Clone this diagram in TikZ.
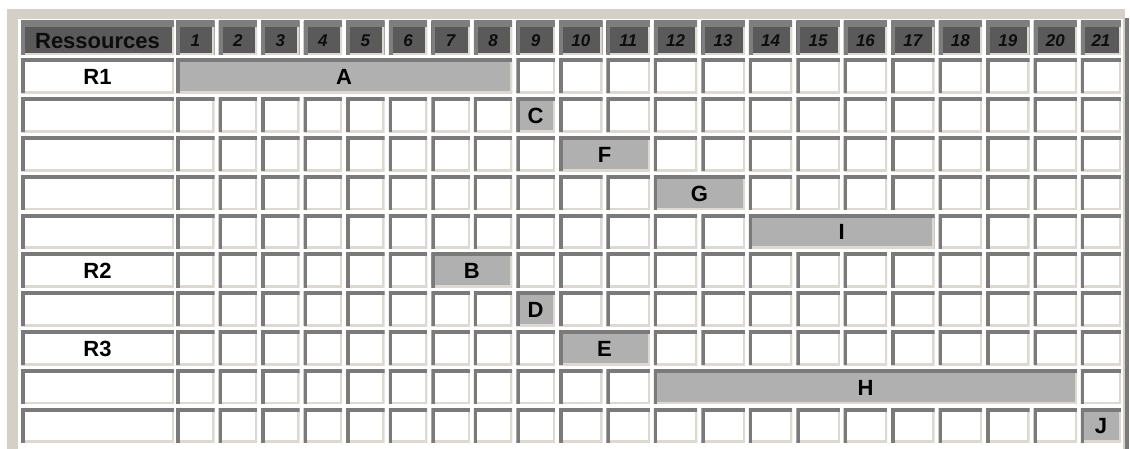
\documentclass[tikz,border=0pt]{standalone}
\usepackage{fontspec}
\setmainfont{Liberation Sans}
\definecolor{beige}{HTML}{D4D0C8}
\definecolor{bdark}{HTML}{7A7A7A}
\definecolor{blight}{HTML}{DCD9D2}
\definecolor{hdrfill}{HTML}{5A5A5A}
\definecolor{hdrtop}{HTML}{7E7E7E}
\definecolor{taskfill}{HTML}{B0B0B0}
\tikzset{
  cellbox/.style={rectangle, inner sep=0pt, outer sep=0pt, anchor=north west, fill=white,
    font=\fontsize{22}{24}\selectfont\bfseries, text=black, text height=16.8pt, text depth=0pt,
    path picture={
      \draw[line width=4.5pt, blight] (path picture bounding box.south west) -- (path picture bounding box.south east) -- (path picture bounding box.north east);
      \draw[line width=7pt, bdark] (path picture bounding box.south west) -- (path picture bounding box.north west) -- (path picture bounding box.north east);
    }},
  taskbox/.style={cellbox, fill=taskfill},
  hdrbox/.style={rectangle, inner sep=0pt, outer sep=0pt, anchor=north west, fill=hdrfill,
    font=\fontsize{17}{19}\selectfont\bfseries\itshape, text=black!95, text height=17.5pt, text depth=0pt,
    path picture={
      \draw[line width=4.5pt, blight] (path picture bounding box.south west) -- (path picture bounding box.south east) -- (path picture bounding box.north east);
      \draw[line width=8pt, hdrtop] (path picture bounding box.south west) -- (path picture bounding box.north west);
      \draw[line width=12pt, hdrtop] (path picture bounding box.north west) -- (path picture bounding box.north east);
    }},
}
\expandafter\def\csname rlab1\endcsname{R1}
\expandafter\def\csname rlab6\endcsname{R2}
\expandafter\def\csname rlab8\endcsname{R3}
\begin{document}
\begin{tikzpicture}[x=1pt, y=-1pt,
  declare function={colL(\k)=ifthenelse(\k<10, 176+(\k-1)*42.55, 559+(\k-10)*47.45);
                    colW(\k)=ifthenelse(\k<10, 38.5, ifthenelse(\k<21, 43.5, 40));
                    rowT(\k)=59+(\k-1)*38.8;}]
\useasboundingbox (0,0) rectangle (1130,449);
% table frame
\fill[beige] (7,9) rectangle (1125,449);
\fill[bdark] (1125,18) rectangle (1128.5,449);
\fill[white] (18,19) rectangle (1123,449);
% merged task cells: mark covered cells
\foreach \rr/\ca/\cb/\t in {1/1/8/A, 2/9/9/C, 3/10/11/F, 4/12/13/G, 5/14/17/I, 6/7/8/B, 7/9/9/D, 8/10/11/E, 9/12/20/H, 10/21/21/J} {
  \foreach \cc in {\ca,...,\cb} { \expandafter\gdef\csname skip@\rr @\cc\endcsname{} }
}
% header row
\node[hdrbox, minimum width=153pt, minimum height=34pt, font=\fontsize{22}{24}\selectfont\bfseries, text height=21.8pt] (hres) at (21,21) {Ressources};
\foreach \cc in {1,...,21} {
  \pgfmathsetmacro\L{colL(\cc)}\pgfmathsetmacro\W{colW(\cc)}
  \node[hdrbox, minimum width=\W pt, minimum height=34pt] (h\cc) at (\L,21) {\cc};
}
% grid rows
\foreach \rr in {1,...,10} {
  \pgfmathsetmacro\T{rowT(\rr)}
  \node[cellbox, minimum width=153pt, minimum height=34.5pt] (res\rr) at (21,\T) {\csname rlab\rr\endcsname};
  \foreach \cc in {1,...,21} {
    \ifcsname skip@\rr @\cc\endcsname\else
      \pgfmathsetmacro\L{colL(\cc)}\pgfmathsetmacro\W{colW(\cc)}
      \node[cellbox, minimum width=\W pt, minimum height=34.5pt] (c\rr-\cc) at (\L,\T) {};
    \fi
  }
}
% tasks
\foreach \rr/\ca/\cb/\t in {1/1/8/A, 2/9/9/C, 3/10/11/F, 4/12/13/G, 5/14/17/I, 6/7/8/B, 7/9/9/D, 8/10/11/E, 9/12/20/H, 10/21/21/J} {
  \pgfmathsetmacro\T{rowT(\rr)}\pgfmathsetmacro\L{colL(\ca)}
  \pgfmathsetmacro\W{colL(\cb)+colW(\cb)-\L}
  \node[taskbox, minimum width=\W pt, minimum height=34.5pt] (task\t) at (\L,\T) {\t};
}
\end{tikzpicture}
\end{document}
